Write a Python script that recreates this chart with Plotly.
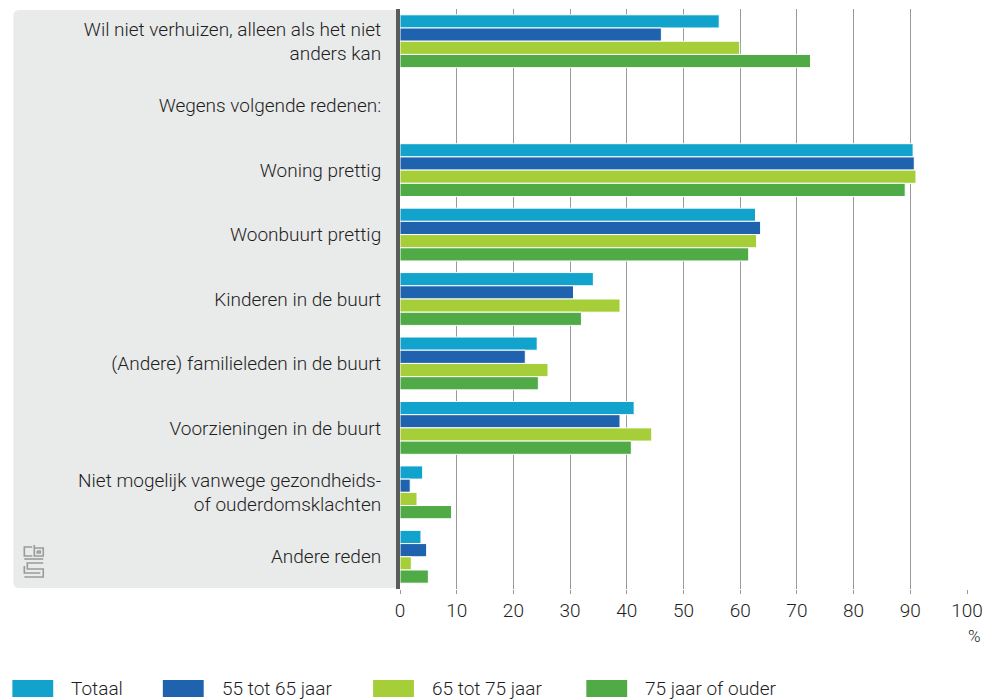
import plotly.graph_objects as go

categories = [
    "Wil niet verhuizen, alleen als het niet<br>anders kan",
    "Wegens volgende redenen:",
    "Woning prettig",
    "Woonbuurt prettig",
    "Kinderen in de buurt",
    "(Andere) familieleden in de buurt",
    "Voorzieningen in de buurt",
    "Niet mogelijk vanwege gezondheids-<br>of ouderdomsklachten",
    "Andere reden",
]
series_names = ["Totaal", "55 tot 65 jaar", "65 tot 75 jaar", "75 jaar of ouder"]
totaal = [56.3, None, 90.5, 62.7, 34.1, 24.2, 41.3, 4.0, 3.7]
age_55_65 = [46.1, None, 90.7, 63.6, 30.6, 22.1, 38.8, 1.8, 4.7]
age_65_75 = [59.9, None, 91.0, 62.9, 38.8, 26.1, 44.4, 3.0, 2.0]
age_75_plus = [72.4, None, 89.1, 61.5, 32.0, 24.4, 40.8, 9.1, 5.0]
x_ticks = [0, 10, 20, 30, 40, 50, 60, 70, 80, 90, 100]

colors = ["#12a3cc", "#1f62ae", "#a6ce39", "#50ab47"]
series_values = [totaal, age_55_65, age_65_75, age_75_plus]

W, H = 992, 700
ML, MR, MT, MB = 400, 23, 9, 111
PW = W - ML - MR
PH = H - MT - MB


def px(x):
    return (x - ML) / PW


def py(y):
    return (H - MB - y) / PH


fig = go.Figure()
for name, vals, col in zip(series_names, series_values, colors):
    fig.add_trace(go.Bar(
        y=categories, x=vals, name=name, orientation="h",
        marker=dict(color=col, line=dict(color="#ffffff", width=1)),
        showlegend=False,
    ))

FONT = "Roboto"
FS = 19
TC = "#1e1e1e"
shapes = []
# grey label panel with rounded corners
r = 6
x0, x1, y0, y1 = 12, ML, 10, 588
path = (
    f"M {px(x0 + r)} {py(y0)} L {px(x1)} {py(y0)} L {px(x1)} {py(y1)} "
    f"L {px(x0 + r)} {py(y1)} Q {px(x0)} {py(y1)} {px(x0)} {py(y1 - r)} "
    f"L {px(x0)} {py(y0 + r)} Q {px(x0)} {py(y0)} {px(x0 + r)} {py(y0)} Z"
)
shapes.append(dict(type="path", path=path, xref="paper", yref="paper",
                   fillcolor="#e9eaea", line=dict(width=0), layer="below"))

# cbs logo (approximation)
lc = "#9a9a9a"
logo_paths = [
    [(31, 547), (23, 547), (23, 556), (31, 556)],
    [(33, 545), (33, 556), (42, 556), (42, 548), (33, 548)],
    [(36, 551), (39, 551), (39, 553), (36, 553), (36, 551)],
    [(23, 559), (42, 559)],
    [(42, 563), (26, 563), (26, 569), (42, 569), (42, 577), (23, 577)],
    [(23, 566), (23, 573), (39, 573)],
]
for pts in logo_paths:
    d = "M " + " L ".join(f"{px(a)} {py(b)}" for a, b in pts)
    shapes.append(dict(type="path", path=d, xref="paper", yref="paper",
                       line=dict(color=lc, width=1.6)))

annotations = []
# legend
legend_x = [11, 162, 373, 587]
for name, col, lx in zip(series_names, colors, legend_x):
    shapes.append(dict(type="rect", xref="paper", yref="paper",
                       x0=px(lx), x1=px(lx + 41), y0=py(697), y1=py(680),
                       fillcolor=col, line=dict(width=0)))
    annotations.append(dict(text=name, xref="paper", yref="paper",
                            x=px(lx + 57), y=py(688), xanchor="left",
                            yanchor="middle", showarrow=False,
                            font=dict(family=FONT, size=FS, color=TC, weight=300)))

annotations.append(dict(text="%", xref="paper", yref="paper", x=px(985),
                        y=py(636), xanchor="right", yanchor="middle",
                        showarrow=False,
                        font=dict(family=FONT, size=17, color=TC, weight=300)))

fig.update_layout(
    width=W, height=H,
    margin=dict(l=ML, r=MR, t=MT, b=MB, pad=0),
    paper_bgcolor="#ffffff", plot_bgcolor="rgba(0,0,0,0)",
    barmode="group", bargap=0.18, bargroupgap=0,
    font=dict(family=FONT, size=FS, color=TC, weight=300),
    shapes=shapes, annotations=annotations,
    xaxis=dict(range=[0, 100], tickvals=x_ticks, showgrid=True,
               gridcolor="#999999", gridwidth=1, zeroline=False,
               ticks="outside", ticklen=4, tickcolor="#999999",
               showline=False, fixedrange=True,
               tickfont=dict(family=FONT, size=FS, color=TC, weight=300)),
    yaxis=dict(categoryorder="array", categoryarray=categories,
               autorange="reversed", showline=True, linecolor="#5a5a5a",
               linewidth=4, ticks="", showgrid=False, zeroline=False,
               ticklabelstandoff=11, fixedrange=True,
               tickfont=dict(family=FONT, size=FS, color=TC, weight=300)),
)

fig.write_html("out.html", config={"displayModeBar": False})
with open("out.html", "r", encoding="utf-8") as f:
    html = f.read()
html = html.replace("<body>", '<body style="margin:0;padding:0;">', 1)
with open("out.html", "w", encoding="utf-8") as f:
    f.write(html)
